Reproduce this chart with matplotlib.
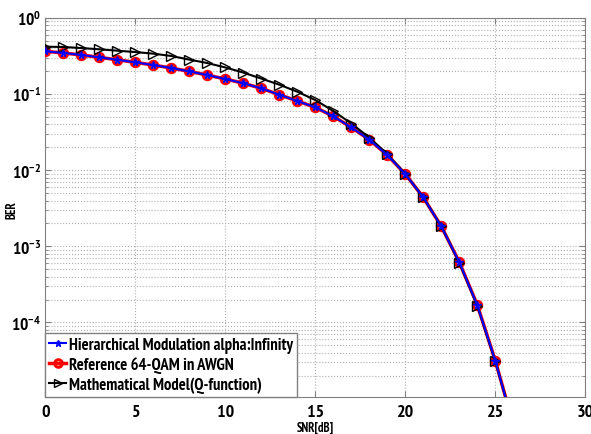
import matplotlib
matplotlib.use("Agg")
import matplotlib.pyplot as plt
from matplotlib.ticker import LogLocator, NullFormatter, FixedLocator

fam = 'PT Sans Narrow'
plt.rcParams['font.family'] = [fam, 'DejaVu Sans']
plt.rcParams['font.weight'] = 'bold'
plt.rcParams['mathtext.fontset'] = 'custom'
plt.rcParams['mathtext.rm'] = fam + ':bold'
plt.rcParams['mathtext.bf'] = fam + ':bold'
plt.rcParams['mathtext.it'] = fam + ':bold'

# ---- data ----
snr = list(range(0, 27))
ber_hier = [0.365, 0.347, 0.327, 0.304, 0.283, 0.261, 0.241, 0.220, 0.199, 0.178,
            0.158, 0.139, 0.119, 0.0983, 0.0812, 0.0670, 0.0511, 0.0366, 0.0252, 0.0158,
            0.0089, 0.0044, 0.00183, 0.00062, 0.000168, 0.0000314, 0.0000045]
ber_ref = [0.365, 0.347, 0.327, 0.304, 0.283, 0.261, 0.241, 0.220, 0.199, 0.178,
           0.158, 0.139, 0.119, 0.0983, 0.0812, 0.0670, 0.0511, 0.0366, 0.0252, 0.0158,
           0.0089, 0.0044, 0.00183, 0.00062, 0.000170, 0.0000314, 0.0000046]
ber_theory = [0.420, 0.416, 0.403, 0.388, 0.372, 0.357, 0.340, 0.317, 0.284, 0.256,
              0.224, 0.192, 0.160, 0.133, 0.1076, 0.0836, 0.0600, 0.0411, 0.0269, 0.0163,
              0.0089, 0.0044, 0.00183, 0.00061, 0.000166, 0.0000310, 0.0000045]
labels = ['Hierarchical Modulation alpha:Infinity',
          'Reference 64-QAM in AWGN',
          'Mathematical Model(Q-function)']
xticks = [0, 5, 10, 15, 20, 25, 30]
yticks = [1e-4, 1e-3, 1e-2, 1e-1, 1]
ytick_labels = [r'$\mathbf{10^{-4}}$', r'$\mathbf{10^{-3}}$', r'$\mathbf{10^{-2}}$',
                r'$\mathbf{10^{-1}}$', r'$\mathbf{10^{0}}$']

fig = plt.figure(figsize=(5.91, 4.35), dpi=100)
ax = fig.add_axes([45.3 / 591, 37 / 435, 540 / 591, 379 / 435])

l1, = ax.semilogy(snr, ber_hier, color='blue', lw=1.5, marker='*', ms=5.5,
                  mec='blue', mfc='blue', zorder=5, label=labels[0])
l2, = ax.semilogy(snr, ber_ref, color='red', lw=2.5, marker='o', ms=6,
                  mec='red', mfc='none', mew=2.2, zorder=3, label=labels[1])
l3, = ax.semilogy(snr, ber_theory, color='black', lw=1.5, marker='>', ms=6.5,
                  mec='black', mfc='none', mew=1.0, zorder=4, label=labels[2])

ax.set_xlim(0, 30)
ax.set_ylim(1.05e-5, 1)
ax.set_xticks(xticks)
ax.yaxis.set_major_locator(FixedLocator(yticks))
ax.yaxis.set_minor_locator(LogLocator(base=10, subs=range(2, 10), numticks=20))
ax.yaxis.set_minor_formatter(NullFormatter())
ax.set_yticklabels(ytick_labels)

ax.grid(True, which='major', axis='both', color='#b0b0b0', ls=':', lw=0.8)
ax.grid(True, which='minor', axis='y', color='#b0b0b0', ls=':', lw=0.8)
ax.tick_params(which='both', direction='in', top=True, right=True, color='#808080')
ax.tick_params(which='major', length=4, pad=4)
ax.tick_params(axis='x', which='major', labelsize=13, pad=5)
ax.tick_params(axis='y', which='major', labelsize=12.5, pad=3)
ax.tick_params(which='minor', length=2)
for lab in ax.get_xticklabels():
    lab.set_fontweight('bold')
for s in ax.spines.values():
    s.set_color('#808080')

ax.set_xlabel('SNR[dB]', fontsize=9, fontweight='bold')
ax.xaxis.set_label_coords((315 - 45.3) / 540, (398 - 428) / 379)
ax.xaxis.label.set_va('center')
ax.set_ylabel('BER', fontsize=9, fontweight='bold')
ax.yaxis.set_label_coords((12 - 45.3) / 540, (398 - 210) / 379)
ax.yaxis.label.set_va('center')

leg = ax.legend(handles=[l1, l2, l3], loc='lower left',
                prop={'weight': 'bold', 'size': 12, 'family': fam},
                handlelength=1.0, handletextpad=0.15, borderpad=0.25,
                labelspacing=0.2, borderaxespad=0.0, fancybox=False,
                framealpha=1, edgecolor='#808080', markerscale=0.9)
leg.get_frame().set_linewidth(1.0)

fig.savefig('out.png', dpi=100)
